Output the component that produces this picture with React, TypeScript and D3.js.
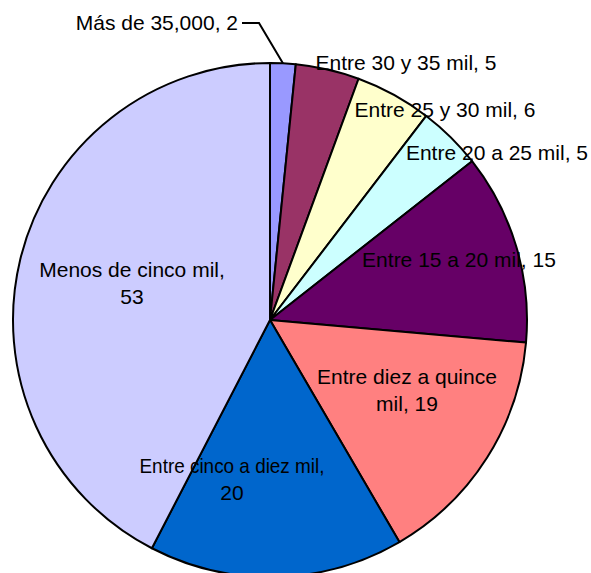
import React, { useEffect, useRef } from 'react';
import * as d3 from 'd3';

// data
const categories = [
  'Más de 35,000',
  'Entre 30 y 35 mil',
  'Entre 25 y 30 mil',
  'Entre 20 a 25 mil',
  'Entre 15 a 20 mil',
  'Entre diez a quince mil',
  'Entre cinco a diez mil',
  'Menos de cinco mil',
];
const values = [2, 5, 6, 5, 15, 19, 20, 53];
const colors = ['#9999FF', '#993366', '#FFFFCC', '#CCFFFF', '#660066', '#FF8080', '#0066CC', '#CCCCFF'];

// label placement relative to the pie centre (x, baseline y), anchor, line break word index, squeezed width
const labelLayout = [
  { dx: -32, dy: -290, anchor: 'end', breakAt: 0, fit: 0 },
  { dx: 136, dy: -250, anchor: 'middle', breakAt: 0, fit: 0 },
  { dx: 175, dy: -203, anchor: 'middle', breakAt: 0, fit: 0 },
  { dx: 227, dy: -160, anchor: 'middle', breakAt: 0, fit: 0 },
  { dx: 189, dy: -53, anchor: 'middle', breakAt: 0, fit: 0 },
  { dx: 137, dy: 64, anchor: 'middle', breakAt: 4, fit: 0 },
  { dx: -38, dy: 153, anchor: 'middle', breakAt: 5, fit: 185 },
  { dx: -138, dy: -43, anchor: 'middle', breakAt: 4, fit: 0 },
];

const width = 591;
const height = 573;

const App: React.FC = () => {
  const svgRef = useRef<SVGSVGElement>(null);

  useEffect(() => {
    if (!svgRef.current) return;
    const svg = d3.select(svgRef.current);
    svg.selectAll('*').remove();

    const cx = 270;
    const cy = 320;
    const radius = 257;

    const data = categories.map((c, i) => ({ category: c, value: values[i], color: colors[i], i }));

    const pie = d3.pie<typeof data[0]>()
      .value(d => d.value)
      .sort(null)
      .startAngle(0)
      .endAngle(2 * Math.PI);

    const arc = d3.arc<d3.PieArcDatum<typeof data[0]>>()
      .innerRadius(0)
      .outerRadius(radius);

    const g = svg.append('g').attr('transform', `translate(${cx}, ${cy})`);

    const arcs = pie(data);

    g.selectAll('path.slice')
      .data(arcs)
      .enter()
      .append('path')
      .attr('class', 'slice')
      .attr('d', arc)
      .style('fill', d => d.data.color)
      .style('stroke', '#000')
      .style('stroke-width', 2)
      .style('stroke-linejoin', 'round');

    // leader line for the small first slice
    const first = arcs[0];
    const mid = (first.startAngle + first.endAngle) / 2;
    const ex = radius * Math.sin(mid);
    const ey = -radius * Math.cos(mid);
    const l0 = labelLayout[0];
    g.append('polyline')
      .attr('points', `${l0.dx + 4},${l0.dy - 7} ${l0.dx + 21},${l0.dy - 7} ${ex},${ey}`)
      .style('fill', 'none')
      .style('stroke', '#000')
      .style('stroke-width', 2);

    // labels
    arcs.forEach((a, i) => {
      const lay = labelLayout[i];
      const words = `${a.data.category}, ${a.data.value}`.split(' ');
      const lines = lay.breakAt > 0
        ? [words.slice(0, lay.breakAt).join(' '), words.slice(lay.breakAt).join(' ')]
        : [words.join(' ')];
      const t = g.append('text')
        .attr('x', lay.dx)
        .attr('y', lay.dy)
        .attr('text-anchor', lay.anchor)
        .style('font-family', '"Liberation Sans", Arial, sans-serif')
        .style('font-size', '21px')
        .style('fill', '#000');
      lines.forEach((line, k) => {
        const ts = t.append('tspan')
          .attr('x', lay.dx)
          .attr('dy', k === 0 ? 0 : 27)
          .text(line);
        if (k === 0 && lay.fit) {
          ts.attr('textLength', lay.fit).attr('lengthAdjust', 'spacingAndGlyphs');
        }
      });
    });
  }, []);

  return (
    <svg
      ref={svgRef}
      width={width}
      height={height}
      style={{ position: 'absolute', left: 0, top: 0, background: '#fff' }}
    />
  );
};

export default App;
